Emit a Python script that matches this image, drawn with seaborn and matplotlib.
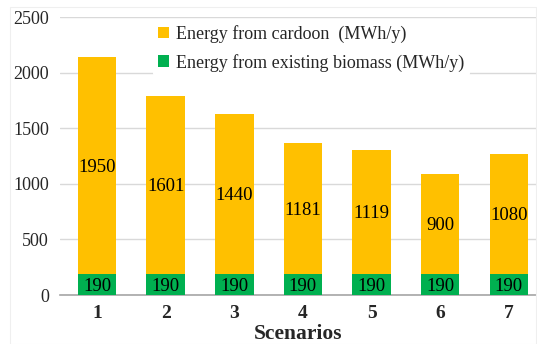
import matplotlib
matplotlib.use("Agg")
import matplotlib.pyplot as plt
from matplotlib.patches import Patch, Rectangle
import pandas as pd
import seaborn as sns

scenarios = ["1", "2", "3", "4", "5", "6", "7"]
cardoon = [1950, 1601, 1440, 1181, 1119, 900, 1080]
biomass = [190, 190, 190, 190, 190, 190, 190]
y_ticks = [0, 500, 1000, 1500, 2000, 2500]

ORANGE = "#FFC000"
GREEN = "#00B050"

sns.set_theme(style="white")
plt.rcParams["font.family"] = ["Liberation Serif", "DejaVu Serif"]

df = pd.DataFrame({"Scenario": scenarios, "Cardoon": cardoon, "Biomass": biomass})
df["Total"] = df["Cardoon"] + df["Biomass"]

fig = plt.figure(figsize=(5.37, 3.44), dpi=100)
ax = fig.add_axes([60 / 537, 0.1424, 477 / 537, 0.8073])

sns.barplot(data=df, x="Scenario", y="Total", color=ORANGE, width=0.56,
            saturation=1, ax=ax, zorder=2, linewidth=0)
sns.barplot(data=df, x="Scenario", y="Biomass", color=GREEN, width=0.56,
            saturation=1, ax=ax, zorder=3, linewidth=0)

for i, (c, b) in enumerate(zip(cardoon, biomass)):
    ax.text(i, b + c / 2, f"{c}", ha="center", va="center_baseline",
            fontsize=13.5, color="black", zorder=4)
    ax.text(i, b / 2, f"{b}", ha="center", va="center_baseline",
            fontsize=13.5, color="black", zorder=4)

ax.set_ylim(0, 2500)
ax.set_xlim(-0.54, 6.41)
ax.set_yticks(y_ticks)
ax.set_yticklabels([str(t) for t in y_ticks], fontsize=13)
ax.tick_params(axis="y", length=0, pad=8)
ax.tick_params(axis="x", length=0, pad=7)
for lbl in ax.get_xticklabels():
    lbl.set_fontsize(14)
    lbl.set_fontweight("bold")
ax.set_xlabel("Scenarios", fontsize=15.5, fontweight="bold", labelpad=1.5)
ax.set_ylabel("")

ax.yaxis.grid(True, color="#d9d9d9", linewidth=1, zorder=0)
ax.set_axisbelow(True)
for side in ["left", "right", "top"]:
    ax.spines[side].set_visible(False)
ax.spines["bottom"].set_color("#a6a6a6")
ax.spines["bottom"].set_linewidth(1.2)

handles = [Patch(facecolor=ORANGE, edgecolor="none"),
           Patch(facecolor=GREEN, edgecolor="none")]
labels = ["Energy from cardoon  (MWh/y)", "Energy from existing biomass (MWh/y)"]
leg = ax.legend(handles, labels, loc="upper left",
                bbox_to_anchor=(84 / 477, 1.025), frameon=True,
                fontsize=13, handlelength=0.6, handleheight=0.6,
                handletextpad=0.4, labelspacing=0.6, borderpad=0.3)
leg.get_frame().set_facecolor("white")
leg.get_frame().set_edgecolor("none")
leg.get_frame().set_alpha(1)

fig.patches.append(Rectangle((0.018, 0.0), 0.98, 0.98, transform=fig.transFigure,
                             fill=False, edgecolor="#efefef", linewidth=0.8))

fig.savefig("out.png", dpi=100)
